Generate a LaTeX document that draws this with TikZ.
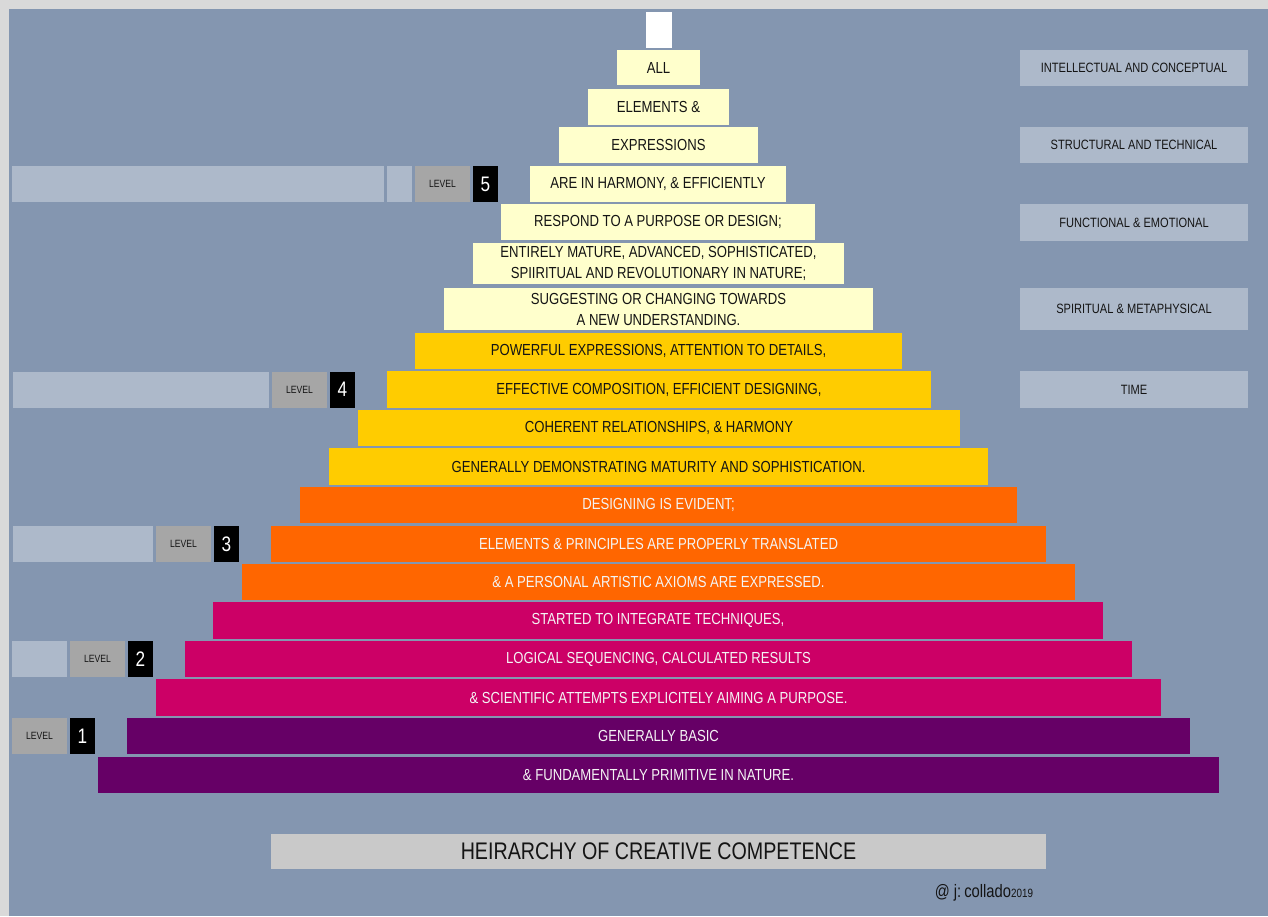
\documentclass[tikz,border=0pt]{standalone}
\usepackage{fontspec}
\usetikzlibrary{positioning}
\newfontfamily\narrowfont{Liberation Sans}[FakeStretch=0.82]
\newcommand\rowfont{\narrowfont\fontsize{16}{21}\selectfont}
\definecolor{outer}{HTML}{D9D9D9}
\definecolor{panel}{HTML}{8496B0}
\definecolor{pale}{HTML}{ADB9CA}
\definecolor{lvgrey}{HTML}{A6A6A6}
\definecolor{cream}{HTML}{FFFFCC}
\definecolor{gold}{HTML}{FFCC00}
\definecolor{tangerine}{HTML}{FF6600}
\definecolor{rose}{HTML}{CC0066}
\definecolor{plum}{HTML}{660066}
\definecolor{titlegrey}{HTML}{C9C9C9}
\definecolor{ink}{HTML}{141414}
\definecolor{paper}{HTML}{F4F4F4}
\tikzset{
  every node/.style={outer sep=0pt},
  layer/.style={inner sep=0pt, align=center, font=\rowfont, minimum height=36},
  cream/.style={layer, fill=cream, text=ink},
  gold/.style={layer, fill=gold, text=ink},
  tangerine/.style={layer, fill=tangerine, text=paper},
  rose/.style={layer, fill=rose, text=paper},
  plum/.style={layer, fill=plum, text=paper},
  numbox/.style={inner sep=0pt, fill=black, text=white, minimum width=25, minimum height=36,
    font=\narrowfont\fontsize{21}{21}\selectfont},
  levelbox/.style={inner sep=0pt, fill=lvgrey, text=ink, minimum width=55, minimum height=36,
    font=\narrowfont\fontsize{10.5}{11}\selectfont},
  blank/.style={inner sep=0pt, fill=pale, minimum height=36},
  sidebox/.style={inner sep=0pt, fill=pale, text=ink, minimum width=228, minimum height=36,
    font=\narrowfont\fontsize{13.5}{14}\selectfont}
}
\begin{document}
\begin{tikzpicture}[x=1pt,y=-1pt]
\useasboundingbox (0,0) rectangle (1268,916);
\fill[outer] (0,0) rectangle (1268,916);
\fill[panel] (9,9) rectangle (1268,916);
% pyramid
\node[layer, fill=white, minimum width=26] (top) at (659,30) {};
\node[cream, minimum width=83, minimum height=35] (r1) at (658.5,67.5) {ALL};
\node[cream, minimum width=141] (r2) at (658.5,107) {ELEMENTS \&};
\node[cream, minimum width=199] (r3) at (658.5,145) {EXPRESSIONS};
\node[cream, minimum width=256] (r4) at (658,184) {ARE IN HARMONY, \& EFFICIENTLY};
\node[cream, minimum width=314] (r5) at (658,222) {RESPOND TO A PURPOSE OR DESIGN;};
\node[cream, minimum width=371, minimum height=41] (r6) at (658.5,263.5) {ENTIRELY MATURE, ADVANCED, SOPHISTICATED,\\SPIIRITUAL AND REVOLUTIONARY IN NATURE;};
\node[cream, minimum width=429, minimum height=42] (r7) at (658.5,309) {SUGGESTING OR CHANGING TOWARDS\\A NEW UNDERSTANDING.};
\node[gold, minimum width=487] (r8) at (658.5,351) {POWERFUL EXPRESSIONS, ATTENTION TO DETAILS,};
\node[gold, minimum width=544, minimum height=37] (r9) at (659,389.5) {EFFECTIVE COMPOSITION, EFFICIENT DESIGNING,};
\node[gold, minimum width=602] (r10) at (659,428) {COHERENT RELATIONSHIPS, \& HARMONY};
\node[gold, minimum width=659, minimum height=37] (r11) at (658.5,466.5) {GENERALLY DEMONSTRATING MATURITY AND SOPHISTICATION.};
\node[tangerine, minimum width=717] (r12) at (658.5,505) {DESIGNING IS EVIDENT;};
\node[tangerine, minimum width=775] (r13) at (658.5,544) {ELEMENTS \& PRINCIPLES ARE PROPERLY TRANSLATED};
\node[tangerine, minimum width=833] (r14) at (658.5,582) {\& A PERSONAL ARTISTIC AXIOMS ARE EXPRESSED.};
\node[rose, minimum width=890, minimum height=37] (r15) at (658,620.5) {STARTED TO INTEGRATE TECHNIQUES,};
\node[rose, minimum width=947] (r16) at (658.5,659) {LOGICAL SEQUENCING, CALCULATED RESULTS};
\node[rose, minimum width=1005, minimum height=37] (r17) at (658.5,697.5) {\& SCIENTIFIC ATTEMPTS EXPLICITELY AIMING A PURPOSE.};
\node[plum, minimum width=1063] (r18) at (658.5,736) {GENERALLY BASIC};
\node[plum, minimum width=1121] (r19) at (658.5,775) {\& FUNDAMENTALLY PRIMITIVE IN NATURE.};
% levels
\node[numbox, left=32pt of r4] (n5) {5};
\node[levelbox, left=3pt of n5] (l5) {LEVEL};
\node[blank, minimum width=25, left=3pt of l5] (b5) {};
\node[blank, minimum width=372, left=3pt of b5] (c5) {};
\node[numbox, left=32pt of r9] (n4) {4};
\node[levelbox, left=3pt of n4] (l4) {LEVEL};
\node[blank, minimum width=256, left=3pt of l4] (b4) {};
\node[numbox, left=32pt of r13] (n3) {3};
\node[levelbox, left=3pt of n3] (l3) {LEVEL};
\node[blank, minimum width=140, left=3pt of l3] (b3) {};
\node[numbox, left=32pt of r16] (n2) {2};
\node[levelbox, left=3pt of n2] (l2) {LEVEL};
\node[blank, minimum width=55, left=3pt of l2] (b2) {};
\node[numbox, left=32pt of r18] (n1) {1};
\node[levelbox, left=3pt of n1] (l1) {LEVEL};
% right side
\node[sidebox] (s1) at (1134,68) {INTELLECTUAL AND CONCEPTUAL};
\node[sidebox] (s2) at (1134,145) {STRUCTURAL AND TECHNICAL};
\node[sidebox, minimum height=37] (s3) at (1134,222.5) {FUNCTIONAL \& EMOTIONAL};
\node[sidebox, minimum height=42] (s4) at (1134,309) {SPIRITUAL \& METAPHYSICAL};
\node[sidebox, minimum height=37] (s5) at (1134,389.5) {TIME};
% title
\node[inner sep=0pt, fill=titlegrey, text=ink, minimum width=775, minimum height=35,
  font=\narrowfont\fontsize{24}{24}\selectfont] (title) at (658.5,851.5) {HEIRARCHY OF CREATIVE COMPETENCE};
\node[anchor=base east, inner sep=0pt, text=ink, font=\narrowfont\fontsize{18}{18}\selectfont] (credit)
  at (1033,897) {@ j:\,collado{\fontsize{12}{12}\selectfont 2019}};
\end{tikzpicture}
\end{document}
